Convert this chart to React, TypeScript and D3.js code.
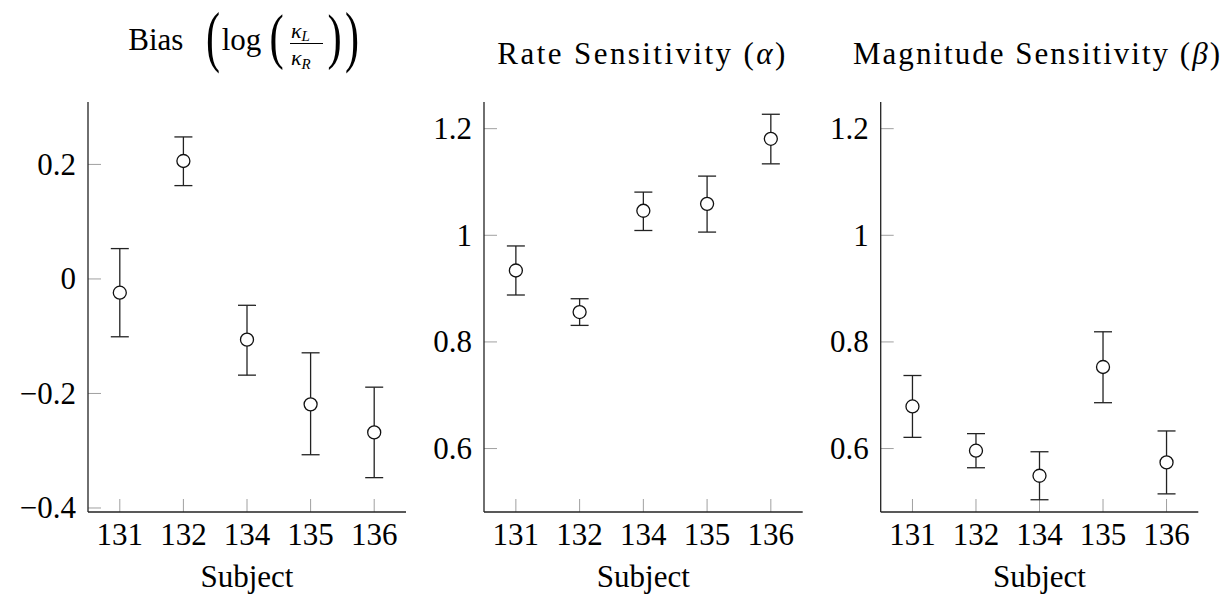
import React from "react";
import * as d3 from "d3";

const subjects = ["131", "132", "134", "135", "136"];

const biasMean = [-0.024, 0.206, -0.106, -0.219, -0.268];
const biasUpper = [0.053, 0.248, -0.046, -0.129, -0.189];
const biasLower = [-0.101, 0.163, -0.168, -0.307, -0.347];

const alphaMean = [0.934, 0.856, 1.046, 1.059, 1.181];
const alphaUpper = [0.98, 0.881, 1.081, 1.111, 1.227];
const alphaLower = [0.888, 0.831, 1.009, 1.006, 1.134];

const betaMean = [0.679, 0.596, 0.549, 0.753, 0.574];
const betaUpper = [0.737, 0.628, 0.594, 0.819, 0.633];
const betaLower = [0.621, 0.564, 0.504, 0.686, 0.515];

const biasTicks = [-0.4, -0.2, 0, 0.2];
const sensTicks = [0.6, 0.8, 1, 1.2];
const biasDomain = [-0.407, 0.309];
const sensDomain = [0.481, 1.25];

const W = 1226;
const H = 597;
const TOP = 102;
const BOTTOM = 512;
const FS = 31;
const SERIF = "Liberation Serif";

const panels = [
  { key: "bias", x0: 88, x1: 406, mean: biasMean, up: biasUpper, lo: biasLower, ticks: biasTicks, domain: biasDomain },
  { key: "alpha", x0: 484, x1: 802.7, mean: alphaMean, up: alphaUpper, lo: alphaLower, ticks: sensTicks, domain: sensDomain },
  { key: "beta", x0: 880.7, x1: 1198.3, mean: betaMean, up: betaUpper, lo: betaLower, ticks: sensTicks, domain: sensDomain },
];

const fmt = d3.format("~g");

function Panel({ p }: { p: any }) {
  const x = d3.scalePoint<string>().domain(subjects).range([p.x0, p.x1]).padding(0.5);
  const y = d3.scaleLinear().domain(p.domain).range([BOTTOM, TOP]);
  const cap = 9;
  return (
    <g>
      {subjects.map((s) => (
        <line key={"xt" + s} x1={x(s)} x2={x(s)} y1={BOTTOM} y2={BOTTOM - 13} stroke="#a0a0a0" strokeWidth={1} />
      ))}
      {p.ticks.map((t: number) => (
        <line key={"yt" + t} x1={p.x0} x2={p.x0 + 13} y1={y(t)} y2={y(t)} stroke="#a0a0a0" strokeWidth={1} />
      ))}
      <line x1={p.x0} x2={p.x0} y1={TOP} y2={BOTTOM} stroke="#222" strokeWidth={1.3} />
      <line x1={p.x0} x2={p.x1} y1={BOTTOM} y2={BOTTOM} stroke="#222" strokeWidth={1.3} />
      {subjects.map((s) => (
        <text key={"xl" + s} x={x(s)} y={545} textAnchor="middle" fontSize={FS} fontFamily={SERIF}>
          {s}
        </text>
      ))}
      {p.ticks.map((t: number) => (
        <text key={"yl" + t} x={p.x0 - 12} y={y(t) + 10.5} textAnchor="end" fontSize={FS} fontFamily={SERIF}>
          {fmt(t)}
        </text>
      ))}
      <text x={(p.x0 + p.x1) / 2} y={587} textAnchor="middle" fontSize={FS} fontFamily={SERIF}>
        Subject
      </text>
      {subjects.map((s, i) => {
        const cx = x(s) as number;
        return (
          <g key={"e" + s} stroke="#222" strokeWidth={1.3} fill="none">
            <line x1={cx} x2={cx} y1={y(p.up[i])} y2={y(p.lo[i])} />
            <line x1={cx - cap} x2={cx + cap} y1={y(p.up[i])} y2={y(p.up[i])} />
            <line x1={cx - cap} x2={cx + cap} y1={y(p.lo[i])} y2={y(p.lo[i])} />
          </g>
        );
      })}
      {subjects.map((s, i) => (
        <circle key={"c" + s} cx={x(s)} cy={y(p.mean[i])} r={6.5} fill="#fff" stroke="#111" strokeWidth={1.3} />
      ))}
    </g>
  );
}

function BigParen({ x, base, fs, ch, sx }: { x: number; base: number; fs: number; ch: string; sx: number }) {
  return (
    <text transform={`translate(${x},${base}) scale(${sx},1)`} fontSize={fs} fontFamily={SERIF}>
      {ch}
    </text>
  );
}

export default function App() {
  const c2 = (panels[1].x0 + panels[1].x1) / 2;
  const c3 = (panels[2].x0 + panels[2].x1) / 2;
  return (
    <div style={{ position: "absolute", left: 0, top: 0 }}>
      <svg width={W} height={H}>
        <text x={128.3} y={50} fontSize={FS} fontFamily={SERIF}>
          Bias
        </text>
        <BigParen x={206} base={59} fs={68} ch="(" sx={0.62} />
        <text x={221.7} y={50} fontSize={FS} fontFamily={SERIF}>
          log
        </text>
        <BigParen x={269.5} base={57} fs={61} ch="(" sx={0.7} />
        <text x={291} y={38} fontSize={22} fontFamily={SERIF} fontStyle="italic">
          κ<tspan fontSize={15} dy={3}>L</tspan>
        </text>
        <line x1={290} x2={323} y1={43.5} y2={43.5} stroke="#000" strokeWidth={1} />
        <text x={291} y={65} fontSize={22} fontFamily={SERIF} fontStyle="italic">
          κ<tspan fontSize={15} dy={4}>R</tspan>
        </text>
        <BigParen x={327.5} base={57} fs={61} ch=")" sx={0.7} />
        <BigParen x={345} base={59} fs={68} ch=")" sx={0.62} />
        <text x={c2 - 2} y={64} textAnchor="middle" fontSize={FS} fontFamily={SERIF} textLength={288} lengthAdjust="spacing">
          Rate Sensitivity (<tspan fontStyle="italic">α</tspan>)
        </text>
        <text x={c3 - 3} y={64} textAnchor="middle" fontSize={FS} fontFamily={SERIF} textLength={367} lengthAdjust="spacing">
          Magnitude Sensitivity (<tspan fontStyle="italic">β</tspan>)
        </text>
        {panels.map((p) => (
          <Panel key={p.key} p={p} />
        ))}
      </svg>
    </div>
  );
}
